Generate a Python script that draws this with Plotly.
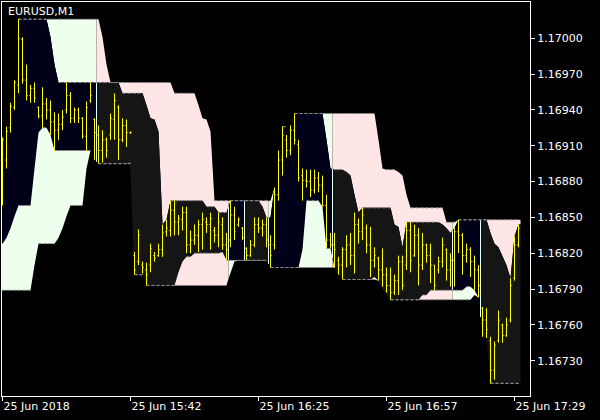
import plotly.graph_objects as go

# ---------------- data (prices in points, 1 point = 0.00001) ----------------
symbol_title = "EURUSD,M1"

bar_high = [
    116917, 116926, 116946, 116965, 117016, 117001, 116978, 116961, 116963, 116943,
    116959, 116950, 116948, 116938, 116937, 116940, 116963, 116955, 116942, 116942,
    116934, 116947, 116963, 116933, 116927, 116923, 116917, 116937, 116954, 116944,
    116933, 116932, 116922, 116821, 116840, 116813, 116812, 116828, 116821, 116828,
    116844, 116848, 116864, 116864, 116852, 116859, 116859, 116839, 116844, 116848,
    116854, 116850, 116854, 116842, 116854, 116850, 116837, 116864, 116859, 116850,
    116842, 116825, 116831, 116850, 116850, 116848, 116850, 116835, 116875, 116906,
    116926, 116919, 116927, 116937, 116915, 116891, 116890, 116890, 116890, 116888,
    116885, 116869, 116837, 116837, 116817, 116825, 116835, 116837, 116854, 116849,
    116858, 116844, 116842, 116825, 116817, 116824, 116808, 116808, 116802, 116818,
    116818, 116846, 116846, 116844, 116841, 116837, 116828, 116828, 116810, 116817,
    116833, 116824, 116820, 116841, 116848, 116837, 116828, 116825, 116818, 116810,
    116775, 116774, 116750, 116746, 116772, 116761, 116766, 116799, 116834, 116844,
]
bar_low = [
    116860, 116891, 116921, 116940, 116954, 116962, 116948, 116946, 116946, 116933,
    116925, 116932, 116919, 116906, 116915, 116923, 116937, 116929, 116929, 116929,
    116916, 116906, 116946, 116898, 116895, 116896, 116900, 116915, 116915, 116898,
    116913, 116909, 116920, 116802, 116810, 116803, 116793, 116804, 116813, 116817,
    116817, 116834, 116834, 116835, 116835, 116839, 116820, 116820, 116827, 116821,
    116823, 116837, 116823, 116829, 116825, 116823, 116814, 116825, 116831, 116842,
    116831, 116814, 116817, 116825, 116837, 116834, 116825, 116808, 116823, 116864,
    116885, 116900, 116902, 116911, 116880, 116864, 116875, 116867, 116870, 116871,
    116859, 116824, 116824, 116808, 116802, 116798, 116808, 116810, 116803, 116828,
    116831, 116820, 116800, 116808, 116797, 116792, 116787, 116781, 116785, 116785,
    116789, 116806, 116804, 116817, 116793, 116806, 116812, 116795, 116789, 116803,
    116808, 116797, 116792, 116792, 116820, 116802, 116812, 116800, 116789, 116783,
    116750, 116749, 116711, 116714, 116745, 116745, 116750, 116762, 116797, 116825,
]
bar_open = [
    116864, 116898, 116925, 116942, 116961, 116999, 116965, 116952, 116958, 116942,
    116935, 116945, 116940, 116930, 116923, 116928, 116940, 116952, 116933, 116940,
    116933, 116918, 116948, 116932, 116919, 116906, 116915, 116919, 116932, 116942,
    116915, 116927, 116921, 116818, 116813, 116810, 116806, 116810, 116818, 116818,
    116823, 116838, 116839, 116856, 116846, 116848, 116854, 116827, 116831, 116835,
    116844, 116846, 116844, 116839, 116835, 116844, 116827, 116831, 116852, 116844,
    116841, 116824, 116818, 116827, 116844, 116841, 116844, 116827, 116827, 116869,
    116898, 116915, 116906, 116923, 116911, 116885, 116881, 116880, 116873, 116883,
    116877, 116860, 116831, 116827, 116814, 116810, 116823, 116827, 116818, 116844,
    116838, 116841, 116827, 116814, 116816, 116806, 116802, 116793, 116787, 116797,
    116813, 116810, 116839, 116818, 116835, 116810, 116827, 116818, 116810, 116806,
    116813, 116823, 116806, 116814, 116838, 116835, 116818, 116823, 116813, 116806,
    116774, 116764, 116747, 116722, 116747, 116760, 116751, 116764, 116799, 116827,
]
bar_close = [
    116915, 116922, 116943, 116963, 117000, 116965, 116952, 116958, 116950, 116935,
    116945, 116940, 116930, 116923, 116928, 116934, 116952, 116933, 116940, 116933,
    116918, 116942, 116952, 116921, 116906, 116915, 116906, 116933, 116948, 116915,
    116927, 116921, 116921, 116806, 116835, 116808, 116802, 116824, 116816, 116823,
    116837, 116841, 116856, 116846, 116849, 116854, 116827, 116831, 116835, 116844,
    116848, 116844, 116849, 116835, 116846, 116827, 116823, 116852, 116838, 116848,
    116833, 116818, 116827, 116844, 116841, 116844, 116831, 116818, 116869, 116898,
    116919, 116906, 116923, 116915, 116883, 116881, 116880, 116873, 116883, 116877,
    116860, 116831, 116827, 116823, 116810, 116823, 116827, 116818, 116844, 116838,
    116852, 116827, 116814, 116818, 116806, 116802, 116793, 116787, 116797, 116813,
    116793, 116839, 116814, 116835, 116810, 116827, 116818, 116810, 116793, 116813,
    116827, 116806, 116814, 116838, 116835, 116818, 116823, 116813, 116806, 116793,
    116764, 116756, 116722, 116743, 116764, 116751, 116760, 116793, 116827, 116841,
]
# bars before the visible window (only used to warm up the channels)
pre_high = [116814, 116813, 116810, 116806, 116808, 116806, 116810, 116808, 116804, 116827,
            116839, 116844, 116848, 116852, 116844, 116848, 116856, 116864, 116877, 116890, 116898]
pre_low = [116793, 116797, 116796, 116791, 116793, 116792, 116795, 116792, 116789, 116810,
           116828, 116828, 116831, 116835, 116828, 116833, 116841, 116851, 116860, 116869, 116877]

trend_start = [0, 24, 57, 61, 67, 83, 113, 120]
trend_bull = [True, False, True, False, True, False, True, False]

x_tick_bars = [0, 32, 64, 96, 128]
x_tick_labels = ["25 Jun 2018", "25 Jun 15:42", "25 Jun 16:25", "25 Jun 16:57", "25 Jun 17:29"]
y_tick_values = [1.17000, 1.16970, 1.16940, 1.16910, 1.16880, 1.16850, 1.16820, 1.16790, 1.16760, 1.16730]

FAST_PERIOD = 8
SLOW_PERIOD = 21
POINT = 0.00001

# ---------------- channels ----------------
n = len(bar_high)
off = len(pre_high)
hist_h = pre_high + bar_high
hist_l = pre_low + bar_low


def chan(values, period, fn):
    return [fn(values[off + i - period + 1: off + i + 1]) for i in range(n)]


slow_hi = chan(hist_h, SLOW_PERIOD, max)
fast_hi = chan(hist_h, FAST_PERIOD, max)
fast_lo = chan(hist_l, FAST_PERIOD, min)
slow_lo = chan(hist_l, SLOW_PERIOD, min)

NAVY = "#000019"
DARK = "#151515"
GREEN = "#EEFFEE"
PINK = "#FFE6E6"

fig = go.Figure()

ends = trend_start[1:] + [n]
for s, e, bull in zip(trend_start, ends, trend_bull):
    idx = list(range(s, e))
    xs = [s - 0.5] + idx + [e - 0.5]

    def seq(line):
        left = line[s] if s == 0 else (line[s - 1] + line[s]) / 2
        right = line[e - 1] if e == n else (line[e - 1] + line[e]) / 2
        return [v * POINT for v in [left] + [line[i] for i in idx] + [right]]

    light = GREEN if bull else PINK
    dark = NAVY if bull else DARK
    fig.add_trace(go.Scatter(x=xs, y=seq(slow_hi), mode="lines", line=dict(width=0),
                             hoverinfo="skip"))
    fig.add_trace(go.Scatter(x=xs, y=seq(fast_hi), mode="lines", line=dict(width=0),
                             fill="tonexty", fillcolor=light, hoverinfo="skip"))
    fig.add_trace(go.Scatter(x=xs, y=seq(fast_lo), mode="lines", line=dict(width=0),
                             fill="tonexty", fillcolor=dark, hoverinfo="skip"))
    fig.add_trace(go.Scatter(x=xs, y=seq(slow_lo), mode="lines", line=dict(width=0),
                             fill="tonexty", fillcolor=light, hoverinfo="skip"))

# thin light separators at trend changes
sx, sy = [], []
for e in trend_start[1:]:
    xm = e - 0.5
    sx += [xm, xm, None]
    sy += [(fast_hi[e - 1] + fast_hi[e]) / 2 * POINT, (fast_lo[e - 1] + fast_lo[e]) / 2 * POINT, None]
fig.add_trace(go.Scatter(x=sx, y=sy, mode="lines", line=dict(color="#E4FFFF", width=1),
                         hoverinfo="skip"))


# dashed channel levels where flat
def flats(line):
    xs, ys = [], []
    i = 0
    while i < n - 1:
        if line[i] == line[i + 1]:
            j = i
            while j < n - 1 and line[j] == line[j + 1]:
                j += 1
            xs += [i, j, None]
            ys += [line[i] * POINT, line[i] * POINT, None]
            i = j
        else:
            i += 1
    return xs, ys


for line in (slow_hi, fast_hi, fast_lo, slow_lo):
    fx, fy = flats(line)
    fig.add_trace(go.Scatter(x=fx, y=fy, mode="lines",
                             line=dict(color="#8A8A8A", width=1, dash="3px,2px"),
                             hoverinfo="skip"))

# OHLC bars (drawn as line segments so they sit above the filled channels)
TICK = 0.3
bx, by = [], []
for i in range(n):
    bx += [i, i, None, i - TICK, i, None, i, i + TICK, None]
    by += [bar_low[i] * POINT, bar_high[i] * POINT, None,
           bar_open[i] * POINT, bar_open[i] * POINT, None,
           bar_close[i] * POINT, bar_close[i] * POINT, None]
fig.add_trace(go.Scatter(x=bx, y=by, mode="lines", line=dict(color="#FFFF00", width=1),
                         hoverinfo="skip"))

fig.add_annotation(text=symbol_title, xref="paper", yref="paper", x=0.008, y=0.997,
                   xanchor="left", yanchor="top", showarrow=False,
                   font=dict(family="DejaVu Sans", size=11, color="white"))

fig.update_layout(
    width=600, height=420,
    margin=dict(l=2, r=70, t=2, b=24, autoexpand=False),
    paper_bgcolor="black", plot_bgcolor="black",
    showlegend=False,
    font=dict(family="DejaVu Sans", size=11, color="white"),
    xaxis=dict(range=[-0.125, 131.875], showgrid=False, zeroline=False,
               showline=True, mirror=True, linecolor="white", linewidth=1,
               ticks="outside", ticklen=4, tickcolor="white",
               tickvals=x_tick_bars, ticktext=x_tick_labels,
               ticklabelposition="outside right", ticklabelstandoff=0,
               automargin=False, fixedrange=True),
    yaxis=dict(range=[1.167004, 1.170304], side="right", showgrid=False, zeroline=False,
               showline=True, mirror=True, linecolor="white", linewidth=1,
               ticks="outside", ticklen=4, tickcolor="white",
               tickvals=y_tick_values, ticktext=["%.5f" % v for v in y_tick_values],
               ticklabelstandoff=0, automargin=False, fixedrange=True),
)

fig.write_html("out.html",
               config={"displayModeBar": False, "staticPlot": True},
               post_script="document.body.style.margin='0';document.body.style.overflow='hidden';")
